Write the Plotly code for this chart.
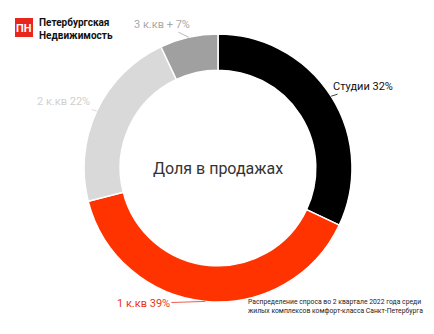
import math
import plotly.graph_objects as go

labels = ["Студии", "1 к.кв", "2 к.кв", "3 к.кв +"]
values = [32, 39, 22, 7]
colors = ["#000000", "#ff3300", "#d9d9d9", "#a0a0a0"]
text_colors = ["#111111", "#e8341c", "#d0d0d0", "#a8a8a8"]
# label offsets (px) from slice outer mid point
offsets = [(32, -10), (-62, 2), (-33, -9), (-27, -13)]

W, H = 434, 334
ml, mr, mt, mb = 2, 0, 34, 32
pw, ph = W - ml - mr, H - mt - mb
R = min(pw, ph) / 2


def px2x(x):
    return (x - ml) / pw


def px2y(y):
    return (H - mb - y) / ph


fig = go.Figure(go.Pie(
    labels=labels, values=values, sort=False, direction="clockwise", rotation=0,
    hole=0.73, marker=dict(colors=colors, line=dict(color="white", width=1.5)),
    textinfo="none", hoverinfo="label+percent", showlegend=False,
))

total = sum(values)
cum = 0
anns = []
for lab, v, tc, (ax, ay) in zip(labels, values, text_colors, offsets):
    mid = (cum + v / 2) / total * 2 * math.pi
    cum += v
    px = 0.5 + R / pw * math.sin(mid)
    py = 0.5 + R / ph * math.cos(mid)
    anns.append(dict(
        x=px, y=py, xref="paper", yref="paper", text=f"{lab} {v}%",
        showarrow=True, arrowhead=0, arrowwidth=0.8, arrowcolor=tc,
        ax=ax, ay=ay, font=dict(family="Roboto", size=11, color=tc),
    ))

anns.append(dict(x=0.5, y=0.5, xref="paper", yref="paper", text="Доля в продажах",
                 showarrow=False, font=dict(family="Roboto", size=16, color="#333333")))
anns.append(dict(x=px2x(37), y=px2y(28.5), xref="paper", yref="paper",
                 text="<b>Петербургская<br>Недвижимость</b>", align="left",
                 xanchor="left", yanchor="middle", showarrow=False,
                 font=dict(family="Roboto", size=10, color="#111111")))
anns.append(dict(x=px2x(24), y=px2y(28), xref="paper", yref="paper",
                 text="<b>ПН</b>", xanchor="center", yanchor="middle", showarrow=False,
                 font=dict(family="Roboto", size=11, color="white")))
anns.append(dict(x=px2x(425), y=px2y(306), xref="paper", yref="paper",
                 text="Распределение спроса во 2 квартале 2022 года среди<br>жилых комплексов комфорт-класса Санкт-Петербурга",
                 align="left", xanchor="right", yanchor="middle", showarrow=False,
                 font=dict(family="Roboto", size=6.8, color="#222222")))

fig.update_layout(
    width=W, height=H, margin=dict(l=ml, r=mr, t=mt, b=mb),
    paper_bgcolor="white", plot_bgcolor="white", annotations=anns,
    shapes=[dict(type="rect", xref="paper", yref="paper",
                 x0=px2x(15), x1=px2x(33), y0=px2y(37), y1=px2y(18),
                 fillcolor="#e8261c", line=dict(width=0), layer="below")],
)
fig.write_html("out.html")
